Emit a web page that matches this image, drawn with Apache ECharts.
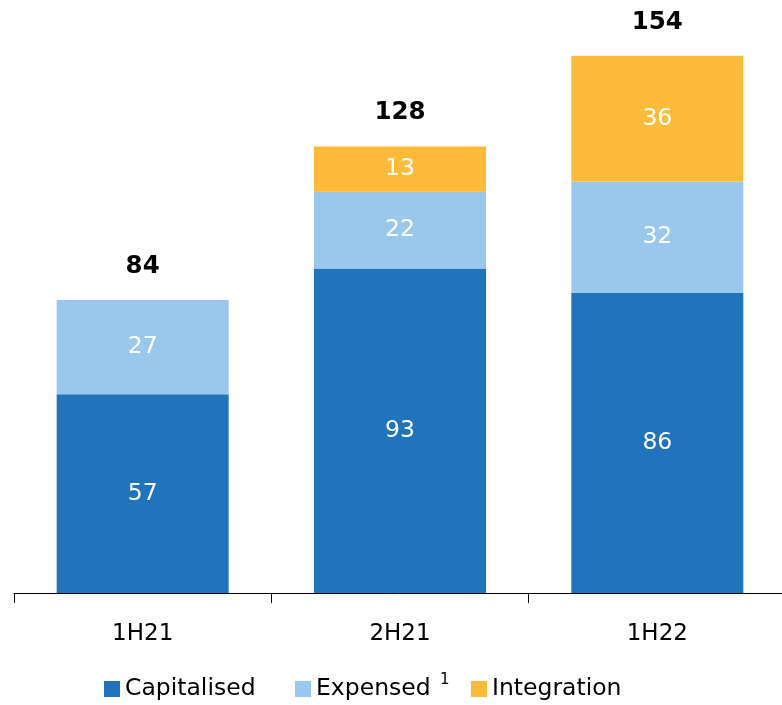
<!DOCTYPE html>
<html>
<head>
<meta charset="utf-8">
<style>
  html, body { margin: 0; padding: 0; background: #ffffff; }
  #chart { width: 782px; height: 705px; }
</style>
<script src="https://cdn.jsdelivr.net/npm/echarts@6/dist/echarts.min.js"></script>
</head>
<body>
<div id="chart"></div>
<script>
// Half-year periods
const categories = ['1H21', '2H21', '1H22'];
// Spend by type
const capitalised = [57, 93, 86];
const expensed = [27, 22, 32];
const integration = [null, 13, 36];
// Totals shown above each stack
const totals = [84, 128, 154];

const FONT = 'DejaVu Sans';
const colors = { cap: '#1f74bb', exp: '#9ac7ee', int: '#fdbb3a' };

const chart = echarts.init(document.getElementById('chart'), null, { renderer: 'canvas' });

const innerLabel = {
  show: true,
  position: 'inside',
  color: '#ffffff',
  fontFamily: FONT,
  fontSize: 23.5
};

function legendFor(name, left) {
  return {
    data: [name],
    left: left,
    top: 677,
    padding: 0,
    itemWidth: 16,
    itemHeight: 16,
    itemGap: 0,
    icon: 'rect',
    textStyle: { fontFamily: FONT, fontSize: 23.5, color: '#000000' }
  };
}

chart.setOption({
  animation: false,
  grid: {
    left: 14, right: -4, top: 0, bottom: 112,
    containLabel: false,
    outerBoundsMode: 'none'
  },
  legend: [
    legendFor('Capitalised', 104),
    legendFor('Expensed', 295),
    legendFor('Integration', 471)
  ],
  // footnote marker on the "Expensed" legend entry
  graphic: [{
    type: 'text',
    left: 440,
    top: 673,
    style: { text: '1', fontFamily: FONT, fontSize: 15, fill: '#000000' }
  }],
  xAxis: {
    type: 'category',
    data: categories,
    boundaryGap: true,
    axisLine: { show: true, lineStyle: { color: '#000000', width: 1 } },
    axisTick: { show: true, length: 10, lineStyle: { color: '#000000' } },
    axisLabel: { fontFamily: FONT, fontSize: 23, color: '#000000', margin: 30 }
  },
  yAxis: {
    type: 'value',
    min: 0,
    max: 170,
    show: false,
    splitLine: { show: false }
  },
  series: [
    {
      name: 'Capitalised',
      type: 'bar',
      stack: 'spend',
      barWidth: 172,
      data: capitalised,
      itemStyle: { color: colors.cap },
      label: innerLabel
    },
    {
      name: 'Expensed',
      type: 'bar',
      stack: 'spend',
      barWidth: 172,
      data: expensed,
      itemStyle: { color: colors.exp },
      label: innerLabel
    },
    {
      name: 'Integration',
      type: 'bar',
      stack: 'spend',
      barWidth: 172,
      data: integration,
      itemStyle: { color: colors.int },
      label: innerLabel
    },
    {
      name: 'Total',
      type: 'scatter',
      data: totals,
      symbolSize: 0,
      silent: true,
      itemStyle: { opacity: 1 },
      label: {
        show: true,
        position: 'top',
        distance: 21,
        color: '#000000',
        fontFamily: FONT,
        fontWeight: 'bold',
        fontSize: 24.5
      }
    }
  ]
});
</script>
</body>
</html>
